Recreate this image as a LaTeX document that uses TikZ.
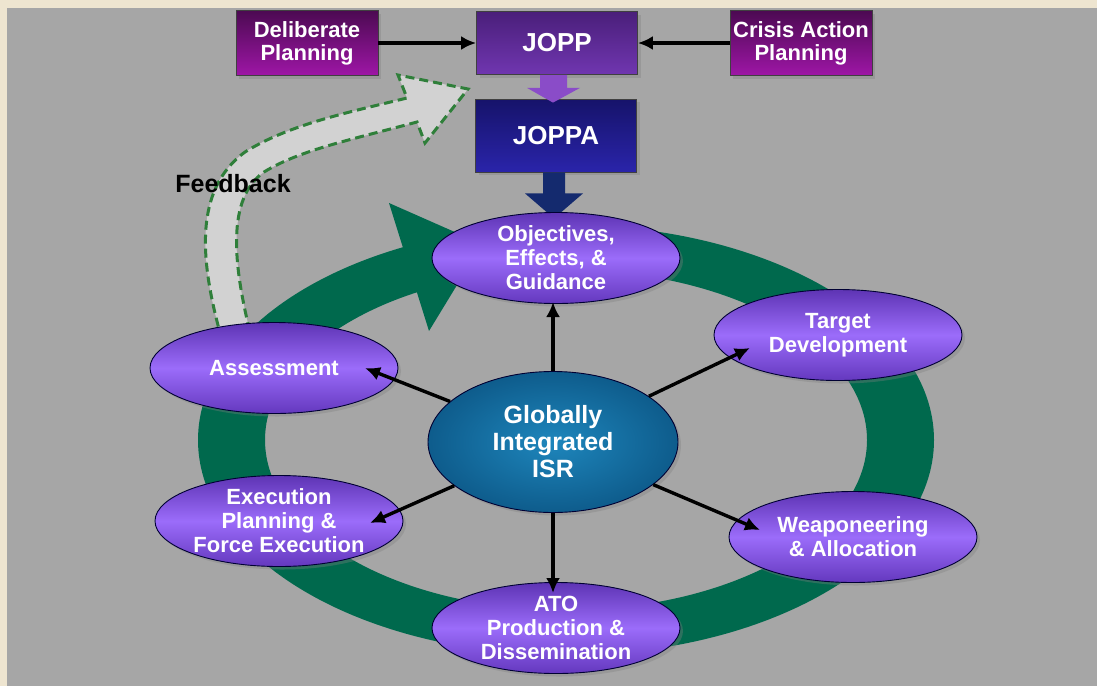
\documentclass[tikz,border=0pt]{standalone}
\usepackage{fontspec}
\setmainfont{Liberation Sans}
\usetikzlibrary{shapes.geometric,arrows.meta,calc,shadows}

\definecolor{paper}{HTML}{EEE5D0}
\definecolor{panel}{HTML}{A6A6A6}
\definecolor{ringgreen}{HTML}{00694D}
\definecolor{fbfill}{HTML}{D2D2D2}
\definecolor{fbline}{HTML}{2F7F3A}
\definecolor{planTop}{HTML}{4C0A52}
\definecolor{planBot}{HTML}{9E16A6}
\definecolor{joppTop}{HTML}{4A1F7A}
\definecolor{joppBot}{HTML}{7036B0}
\definecolor{joppaTop}{HTML}{16136A}
\definecolor{joppaBot}{HTML}{2A24AA}
\definecolor{stepTop}{HTML}{5E34B4}
\definecolor{stepMid}{HTML}{9B6CFA}
\definecolor{stepBot}{HTML}{6438BE}
\definecolor{isrIn}{HTML}{1E86BC}
\definecolor{isrOut}{HTML}{0E5C8C}
\definecolor{arrPurple}{HTML}{8A4CC8}
\definecolor{arrNavy}{HTML}{142A6E}

\tikzset{
  lbl/.style={text=white, font=\bfseries\fontsize{22}{24}\selectfont, align=center, inner sep=0pt},
  shade/.style={drop shadow={opacity=0.35, shadow xshift=3pt, shadow yshift=-3pt}},
  planbox/.style={lbl, shade, draw=black!75, line width=0.8pt,
    minimum width=142pt, minimum height=65pt, top color=planTop, bottom color=planBot,
    font=\bfseries\fontsize{22}{23}\selectfont},
  joppbox/.style={lbl, shade, draw=black!75, line width=0.8pt,
    minimum width=161pt, font=\bfseries\fontsize{26}{28}\selectfont},
  stepoval/.style={lbl, shade, ellipse, draw=black!80!blue, line width=0.9pt,
    minimum width=248pt, minimum height=91pt,
    top color=stepTop, bottom color=stepBot, middle color=stepMid},
  hub/.style={lbl, shade, ellipse, draw=black!80!blue, line width=0.9pt,
    minimum width=250pt, minimum height=141pt,
    inner color=isrIn, outer color=isrOut,
    font=\bfseries\fontsize{25}{27}\selectfont},
  conn/.style={draw=black, line width=3.4pt, -{Latex[length=15pt,width=14pt]}}
}

\begin{document}
\begin{tikzpicture}[x=1pt,y=-1pt]
\useasboundingbox (0,0) rectangle (1097,686);

% frame and panel
\fill[paper] (0,0) rectangle (1097,686);
\fill[panel] (7,8) rectangle (1097,686);

% circular process band with its arrowhead
\fill[ringgreen, even odd rule]
  (566,440) ellipse [x radius=368pt, y radius=215pt]
  (566,440) ellipse [x radius=301pt, y radius=170pt];
\fill[ringgreen] (389,203) -- (482,244) -- (429,331) -- cycle;

% feedback block arrow
\filldraw[fill=fbfill, draw=fbline, line width=3pt, dash pattern=on 9pt off 5pt, line join=miter]
  (222,340) .. controls (200,262) and (193,190) .. (245,152)
  .. controls (290,124) and (350,112) .. (407,98)
  -- (398,75) -- (468,89) -- (425,143) -- (417,122)
  .. controls (350,140) and (300,150) .. (264,172)
  .. controls (227,198) and (232,262) .. (252,340) -- cycle;
\node[font=\bfseries\fontsize{25}{28}\selectfont, text=black, inner sep=0pt] (fb) at (233,184) {Feedback};

% planning boxes
\node[planbox] (delib) at (307,43) {Deliberate\\Planning};
\node[planbox] (crisis) at (801,43) {Crisis Action\\Planning};
\node[joppbox, minimum height=63pt, top color=joppTop, bottom color=joppBot] (jopp) at (557,43) {JOPP};
\node[joppbox, minimum height=73pt, top color=joppaTop, bottom color=joppaBot] (joppa) at (556,135.5) {JOPPA};

\draw[conn] (delib) -- (jopp);
\draw[conn] (crisis) -- (jopp);

% block arrows JOPP -> JOPPA -> objectives
\fill[arrPurple]
  ($(jopp.south)+(-17,0)$) -- ($(jopp.south)+(10,0)$) -- ($(jopp.south)+(10,13)$)
  -- ($(jopp.south)+(23,13)$) -- ($(joppa.north)+(-3,4)$) -- ($(jopp.south)+(-30,13)$)
  -- ($(jopp.south)+(-17,13)$) -- cycle;
\fill[arrNavy]
  ($(joppa.south)+(-13,0)$) -- ($(joppa.south)+(9,0)$) -- ($(joppa.south)+(9,21)$)
  -- ($(joppa.south)+(27,21)$) -- ($(joppa.south)+(-2,46)$) -- ($(joppa.south)+(-31,21)$)
  -- ($(joppa.south)+(-13,21)$) -- cycle;

% process steps
\node[stepoval] (obj) at (556,258) {Objectives,\\Effects, \&\\Guidance};
\node[stepoval] (tgt) at (838,335) {Target\\Development};
\node[stepoval] (wpn) at (853,537) {Weaponeering\\\& Allocation};
\node[stepoval] (ato) at (556,628) {ATO\\Production \&\\Dissemination};
\node[stepoval] (exe) at (279,521) {Execution\\Planning \&\\Force Execution};
\node[stepoval] (asm) at (274,368) {Assessment};

% hub
\node[hub] (isr) at (553,442) {Globally\\Integrated\\ISR};

% arrow tips reaching into the steps
\coordinate (objTip) at (553,302);
\coordinate (tgtTip) at (750,348);
\coordinate (wpnTip) at (760,530);
\coordinate (atoTip) at (553,593);
\coordinate (exeTip) at (370,523);
\coordinate (asmTip) at (365,368);

\draw[conn] (isr) -- (objTip);
\draw[conn] (isr) -- (tgtTip);
\draw[conn] (isr) -- (wpnTip);
\draw[conn] (isr) -- (atoTip);
\draw[conn] (isr) -- (exeTip);
\draw[conn] (isr) -- (asmTip);
\end{tikzpicture}
\end{document}
